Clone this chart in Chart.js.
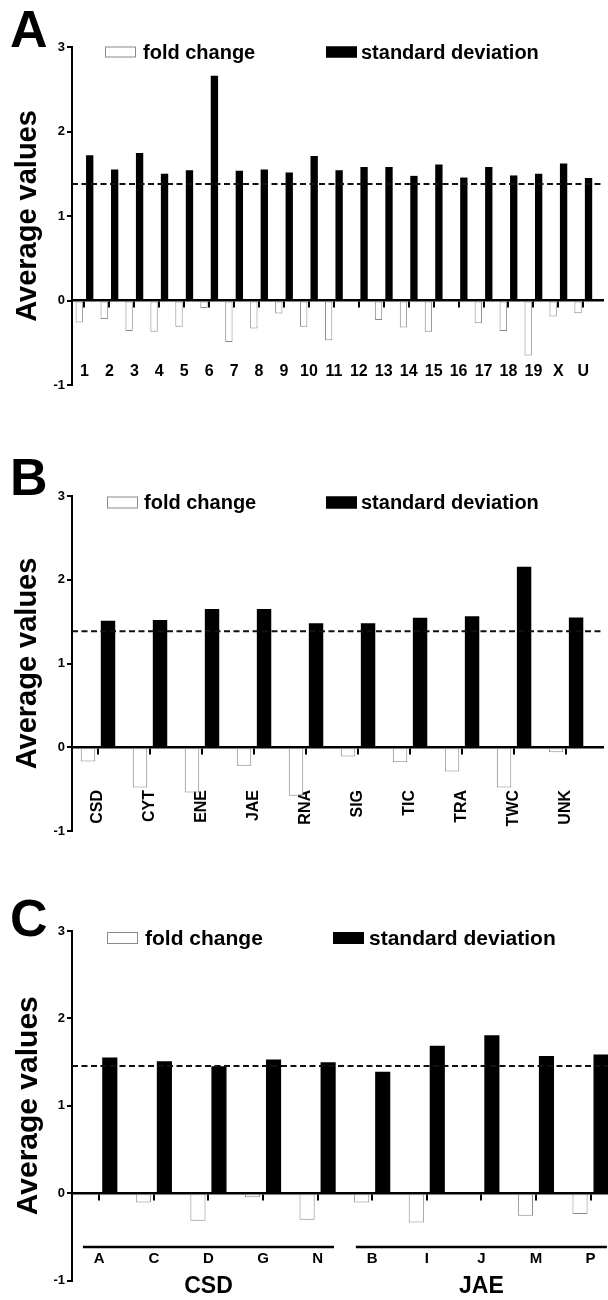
<!DOCTYPE html>
<html>
<head>
<meta charset="utf-8">
<title>Average values</title>
<script src="https://cdn.jsdelivr.net/npm/chart.js@4.4.1/dist/chart.umd.min.js"></script>
<style>
  html, body { margin: 0; padding: 0; background: #fff; }
  body { position: relative; width: 608px; height: 1300px; overflow: hidden;
         font-family: "Liberation Sans", Arial, sans-serif; color: #000; }
  .panel { position: absolute; left: 0; width: 608px; }
  .panel canvas { position: absolute; left: 0; top: 0; }
  .letter { position: absolute; left: 10px; font-size: 52px; line-height: 52px; font-weight: bold; }
  .legend-item { position: absolute; display: flex; align-items: center; font-weight: bold;
                 white-space: nowrap; transform: translateY(-50%); }
  .legend-box { box-sizing: border-box; flex: none; }
</style>
</head>
<body>
<script>
const FONT = '"Liberation Sans", Arial, sans-serif';
Chart.defaults.font.family = FONT;
Chart.defaults.color = '#000';

const seriesNames = ['fold change', 'standard deviation'];
const seriesFill = ['#ffffff', '#000000'];
const seriesBorder = ['#8a8a8a', '#000000'];
const yTickStep = 1;
const yMin = -1;
const yMax = 3;
const yTitle = 'Average values';

// A - chromosomes
const chromLabels = ['1', '2', '3', '4', '5', '6', '7', '8', '9', '10', '11',
  '12', '13', '14', '15', '16', '17', '18', '19', 'X', 'U'];
const chromFold = [-0.26, -0.22, -0.36, -0.37, -0.31, -0.09, -0.49, -0.33, -0.155, -0.31, -0.47,
  0.01, -0.23, -0.32, -0.37, -0.01, -0.27, -0.36, -0.65, -0.19, -0.15];
const chromSD = [1.72, 1.55, 1.745, 1.50, 1.54, 2.66, 1.535, 1.55, 1.515, 1.71, 1.54,
  1.58, 1.58, 1.475, 1.61, 1.455, 1.58, 1.48, 1.50, 1.62, 1.45];
const chromMeanSD = 1.38;

// B - functional categories
const funcLabels = ['CSD', 'CYT', 'ENE', 'JAE', 'RNA', 'SIG', 'TIC', 'TRA', 'TWC', 'UNK'];
const funcFold = [-0.17, -0.48, -0.54, -0.22, -0.58, -0.11, -0.18, -0.29, -0.48, -0.06];
const funcSD = [1.51, 1.52, 1.65, 1.65, 1.48, 1.48, 1.545, 1.565, 2.155, 1.55];
const funcMeanSD = 1.385;

// C - subgroups of CSD and JAE
const subLabels = ['A', 'C', 'D', 'G', 'N', 'B', 'I', 'J', 'M', 'P'];
const subFold = [0.01, -0.107, -0.315, -0.046, -0.306, -0.107, -0.337, 0, -0.26, -0.24];
const subSD = [1.553, 1.51, 1.453, 1.528, 1.497, 1.39, 1.686, 1.808, 1.568, 1.587];
const subMeanSD = 1.455;
const subGroups = ['CSD', 'JAE'];
const subGroupSizes = [5, 5];

// dashed reference line
const refLinePlugin = {
  id: 'refLine',
  afterDatasetsDraw(chart, args, opts) {
    const {ctx, chartArea, scales} = chart;
    const y = scales.y.getPixelForValue(opts.value);
    ctx.save();
    ctx.strokeStyle = '#111';
    ctx.lineWidth = 2;
    ctx.setLineDash([6, 3.5]);
    ctx.beginPath();
    ctx.moveTo(chartArea.left, y);
    ctx.lineTo(chartArea.right, y);
    ctx.stroke();
    ctx.restore();
  }
};

// underline under each group of categories (panel C)
const groupLinePlugin = {
  id: 'groupLines',
  afterDraw(chart, args, opts) {
    if (!opts.sizes) return;
    const {ctx, scales} = chart;
    const y = scales.y.getPixelForValue(opts.level);
    let start = 0;
    ctx.save();
    ctx.strokeStyle = '#000';
    ctx.lineWidth = 2.5;
    opts.sizes.forEach(n => {
      const x1 = scales.x.getPixelForValue(start - opts.pad);
      const x2 = scales.x.getPixelForValue(start + n - 1 + opts.pad);
      ctx.beginPath();
      ctx.moveTo(x1, y);
      ctx.lineTo(x2, y);
      ctx.stroke();
      start += n;
    });
    ctx.restore();
  }
};

function drawPanel(p) {
  const div = document.createElement('div');
  div.className = 'panel';
  div.style.top = p.top + 'px';
  div.style.height = p.height + 'px';
  document.body.appendChild(div);

  const canvas = document.createElement('canvas');
  canvas.width = 608;
  canvas.height = p.height;
  div.appendChild(canvas);

  const letter = document.createElement('div');
  letter.className = 'letter';
  letter.style.top = p.letterTop + 'px';
  letter.textContent = p.letter;
  div.appendChild(letter);

  const indexTicks = s => { s.ticks = p.labels.map((_, i) => ({value: i})); };
  const xRange = {type: 'linear', axis: 'x', min: -0.5, max: p.xMax, bounds: 'data', offset: false};

  const scales = {
    x: Object.assign({}, xRange, {
      position: {y: 0},
      z: 1,
      afterBuildTicks: indexTicks,
      border: {color: '#000', width: 2.5},
      grid: {offset: false, drawOnChartArea: false, color: '#000', lineWidth: 2, tickLength: 6},
      ticks: {display: false}
    }),
    xl: Object.assign({}, xRange, {
      position: {y: p.labelLevel},
      afterBuildTicks: indexTicks,
      border: {display: false},
      grid: {offset: false, display: false, drawTicks: false},
      ticks: {
        autoSkip: false, padding: 0, color: '#000',
        minRotation: p.rotation, maxRotation: p.rotation,
        font: {size: p.labelSize, weight: 'bold'},
        callback: (v, i) => p.labels[i]
      }
    }),
    y: {
      min: yMin, max: yMax,
      afterFit: s => { s.width = 72; },
      border: {color: '#000', width: 2},
      grid: {drawOnChartArea: false, color: '#000', lineWidth: 2, tickLength: 5},
      ticks: {stepSize: yTickStep, padding: 2, color: '#000', font: {size: 13, weight: 'bold'}},
      title: {display: true, text: yTitle, color: '#000',
              font: {size: p.titleSize, weight: 'bold'}, padding: {top: 11, bottom: 0}}
    }
  };

  if (p.groups) {
    let start = 0;
    const centers = p.groupSizes.map(n => { const c = start + (n - 1) / 2; start += n; return c; });
    scales.xg = Object.assign({}, xRange, {
      position: {y: p.groupLabelLevel},
      afterBuildTicks: s => { s.ticks = centers.map(v => ({value: v})); },
      border: {display: false},
      grid: {offset: false, display: false, drawTicks: false},
      ticks: {autoSkip: false, padding: 0, color: '#000', maxRotation: 0,
              font: {size: 23, weight: 'bold'}, callback: (v, i) => p.groups[i]}
    });
  }

  const chart = new Chart(canvas, {
    type: 'bar',
    data: {
      datasets: [
        {label: seriesNames[0], data: p.fold.map((v, i) => ({x: i, y: v})),
         backgroundColor: seriesFill[0], borderColor: seriesBorder[0], borderWidth: 1, borderSkipped: false},
        {label: seriesNames[1], data: p.sd.map((v, i) => ({x: i, y: v})),
         backgroundColor: seriesFill[1], borderColor: seriesBorder[1], borderWidth: 0}
      ]
    },
    options: {
      responsive: false,
      animation: false,
      events: [],
      categoryPercentage: p.catPct,
      barPercentage: p.barPct,
      layout: {padding: {top: p.padTop, bottom: p.padBottom, left: 0, right: p.padRight}},
      scales,
      plugins: {
        legend: {display: false},
        tooltip: {enabled: false},
        refLine: {value: p.mean},
        groupLines: {sizes: p.groupSizes, level: p.groupLineLevel, pad: 0.3}
      }
    },
    plugins: [refLinePlugin, groupLinePlugin]
  });

  // legend built from the datasets
  chart.data.datasets.forEach((ds, i) => {
    const item = document.createElement('div');
    item.className = 'legend-item';
    item.style.left = p.legendX[i] + 'px';
    item.style.top = p.legendY + 'px';
    item.style.fontSize = p.legendSize + 'px';
    const box = document.createElement('span');
    box.className = 'legend-box';
    box.style.width = p.legendBox[0] + 'px';
    box.style.height = p.legendBox[1] + 'px';
    box.style.background = ds.backgroundColor;
    box.style.border = '1px solid ' + (ds.borderWidth ? ds.borderColor : ds.backgroundColor);
    box.style.marginRight = p.legendGap[i] + 'px';
    const txt = document.createElement('span');
    txt.textContent = ds.label;
    item.appendChild(box);
    item.appendChild(txt);
    div.appendChild(item);
  });
}

drawPanel({
  letter: 'A', top: 0, height: 433, letterTop: 3,
  labels: chromLabels, fold: chromFold, sd: chromSD, mean: chromMeanSD,
  xMax: 20.79, padTop: 47, padBottom: 48, padRight: 5,
  catPct: 0.84, barPct: 0.7,
  labelLevel: -0.73, labelSize: 16, rotation: 0, titleSize: 29,
  legendY: 51.5, legendX: [105, 326], legendGap: [7, 4], legendBox: [31, 11], legendSize: 20
});

drawPanel({
  letter: 'B', top: 433, height: 433, letterTop: 18,
  labels: funcLabels, fold: funcFold, sd: funcSD, mean: funcMeanSD,
  xMax: 9.71, padTop: 63, padBottom: 35, padRight: 5,
  catPct: 0.77, barPct: 0.72,
  labelLevel: -0.51, labelSize: 16, rotation: 90, titleSize: 29,
  legendY: 69, legendX: [107, 326], legendGap: [6, 4], legendBox: [31, 12], legendSize: 20
});

drawPanel({
  letter: 'C', top: 866, height: 434, letterTop: 26,
  labels: subLabels, fold: subFold, sd: subSD, mean: subMeanSD,
  groups: subGroups, groupSizes: subGroupSizes,
  xMax: 9.32, padTop: 65, padBottom: 19.5, padRight: 0,
  catPct: 0.77, barPct: 0.72,
  labelLevel: -0.65, labelSize: 15, rotation: 0, titleSize: 30,
  groupLineLevel: -0.617, groupLabelLevel: -0.917,
  legendY: 71.5, legendX: [107, 333], legendGap: [7, 5], legendBox: [31, 12], legendSize: 21
});
</script>
</body>
</html>
